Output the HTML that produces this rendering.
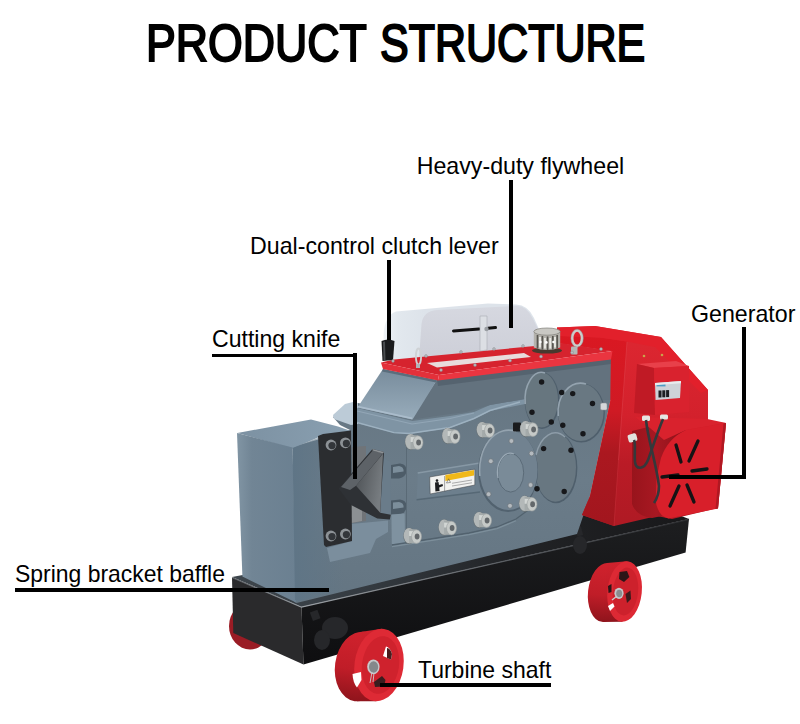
<!DOCTYPE html>
<html><head><meta charset="utf-8">
<style>
html,body{margin:0;padding:0;background:#fff;}
body{width:800px;height:724px;position:relative;overflow:hidden;font-family:"Liberation Sans",sans-serif;color:#000;}
.t{position:absolute;white-space:nowrap;line-height:1;transform-origin:0 0;}
.ln{position:absolute;background:#000;}
svg{position:absolute;left:0;top:0;}
</style></head><body>
<svg id="machine" width="800" height="724" viewBox="0 0 800 724">
<!--MACHINE-->
<defs>
<linearGradient id="gBlockL" x1="0" y1="0" x2="1" y2="0"><stop offset="0" stop-color="#8195a4"/><stop offset="0.25" stop-color="#718595"/><stop offset="1" stop-color="#6b8091"/></linearGradient>
<linearGradient id="gFront" x1="0" y1="0" x2="0" y2="1"><stop offset="0" stop-color="#657581"/><stop offset="0.5" stop-color="#6b7c89"/><stop offset="1" stop-color="#647582"/></linearGradient>
<linearGradient id="gRed" x1="0" y1="0" x2="1" y2="0"><stop offset="0" stop-color="#c91b27"/><stop offset="0.5" stop-color="#d9202c"/><stop offset="1" stop-color="#cf1e2a"/></linearGradient>
<linearGradient id="gCyl" x1="0" y1="0" x2="1" y2="0"><stop offset="0" stop-color="#98141c"/><stop offset="0.45" stop-color="#a81822"/><stop offset="1" stop-color="#8a1219"/></linearGradient>
<linearGradient id="gBase" x1="0" y1="0" x2="0" y2="1"><stop offset="0" stop-color="#1d1e20"/><stop offset="1" stop-color="#0e0e10"/></linearGradient>
<linearGradient id="gCover" x1="0" y1="0" x2="0" y2="1"><stop offset="0" stop-color="#d6d8e0"/><stop offset="1" stop-color="#cdcfd8"/></linearGradient>
<linearGradient id="gKnife" x1="0" y1="0" x2="1" y2="0.4"><stop offset="0" stop-color="#4a4e52"/><stop offset="1" stop-color="#777c80"/></linearGradient>
<radialGradient id="gBolt" cx="0.4" cy="0.4" r="0.7"><stop offset="0" stop-color="#e4e6e8"/><stop offset="0.6" stop-color="#b9bdc0"/><stop offset="1" stop-color="#8a8f93"/></radialGradient>
<linearGradient id="gWheel" x1="0" y1="0" x2="1" y2="1"><stop offset="0" stop-color="#e2303a"/><stop offset="1" stop-color="#b81822"/></linearGradient>
<linearGradient id="gFaceL" x1="293" y1="0" x2="345" y2="0" gradientUnits="userSpaceOnUse"><stop offset="0" stop-color="#5f7586"/><stop offset="1" stop-color="#5f7586" stop-opacity="0"/></linearGradient>
<linearGradient id="gSlopeL" x1="0" y1="0" x2="0" y2="1"><stop offset="0" stop-color="#788c9c"/><stop offset="1" stop-color="#98acbb"/></linearGradient>
<linearGradient id="gRedV" x1="0" y1="330" x2="0" y2="520" gradientUnits="userSpaceOnUse"><stop offset="0" stop-color="#dd2731"/><stop offset="0.45" stop-color="#d3212c"/><stop offset="0.7" stop-color="#ba1b26"/><stop offset="1" stop-color="#b01a24"/></linearGradient>
<linearGradient id="gRedF" x1="0" y1="335" x2="0" y2="525" gradientUnits="userSpaceOnUse"><stop offset="0" stop-color="#da1822"/><stop offset="0.4" stop-color="#cf1a24"/><stop offset="0.62" stop-color="#ab1820"/><stop offset="1" stop-color="#a2161e"/></linearGradient>
<linearGradient id="gTop" x1="0" y1="0" x2="1" y2="0"><stop offset="0" stop-color="#7c91a2"/><stop offset="1" stop-color="#8aa0b1"/></linearGradient>
<linearGradient id="gTread" x1="0" y1="0" x2="0" y2="1"><stop offset="0" stop-color="#d0222d"/><stop offset="0.55" stop-color="#c01d28"/><stop offset="1" stop-color="#8f141c"/></linearGradient>
<linearGradient id="gEdge" x1="230" y1="0" x2="690" y2="0" gradientUnits="userSpaceOnUse"><stop offset="0" stop-color="#55595e"/><stop offset="0.16" stop-color="#9a9fa4"/><stop offset="0.6" stop-color="#5a5e63"/><stop offset="1" stop-color="#2c2d30"/></linearGradient>
<linearGradient id="gSide" x1="383" y1="0" x2="425" y2="0" gradientUnits="userSpaceOnUse"><stop offset="0" stop-color="#eff3f7"/><stop offset="0.35" stop-color="#e2e8ee"/><stop offset="1" stop-color="#dde3ea"/></linearGradient>
<linearGradient id="gBaseTop" x1="232" y1="0" x2="689" y2="0" gradientUnits="userSpaceOnUse"><stop offset="0" stop-color="#3e464d"/><stop offset="0.3" stop-color="#343a40"/><stop offset="0.6" stop-color="#222427"/><stop offset="1" stop-color="#18181a"/></linearGradient>
</defs>

<!-- back wheels -->
<ellipse cx="250" cy="626" rx="21" ry="23.5" fill="#9a1c25"/>

<!-- base -->
<polygon points="232,577 301.5,607 689,519 640,500" fill="url(#gBaseTop)"/>
<polygon points="232,577.4 301.5,607 303.5,664.5 233.3,633" fill="#2a2a2c"/>
<polygon points="301.5,607 689,519 685.6,552.5 303.5,664.5" fill="url(#gBase)"/>
<polyline points="232.5,577.8 301.5,607.2 689,519.3" fill="none" stroke="url(#gEdge)" stroke-width="1.2"/>

<g fill="#26272a"><rect x="311" y="611" width="8" height="9" transform="rotate(-20 315 615)"/><ellipse cx="335" cy="628" rx="13" ry="11"/><ellipse cx="322" cy="640" rx="8" ry="10"/><rect x="576" y="527" width="6" height="9" transform="rotate(-15 579 531)"/><ellipse cx="580" cy="545" rx="7" ry="9"/></g>
<!-- left cutting block + gearbox casting -->
<g id="block">
<!-- big front face -->
<polygon points="293,447 350,430 340,425 333,417 351,405 358,403 412,416 437,380 611,359 610.5,400 602,440 590,496 577,534 296.5,603 294,601.5" fill="url(#gFront)"/>
<polygon points="237.4,433 311,419.4 338,426.5 351,431 323,436 318,437.5 292.5,448.5" fill="url(#gTop)"/>
<polygon points="237,433 292.6,447.5 296,602.6 242.4,576.6" fill="url(#gBlockL)"/>
<polygon points="292.5,448 320,437 340,445 345,590 298,601 295,600" fill="url(#gFaceL)"/>
</g>
<!-- recess under knife -->
<polygon points="351,524 388,520.5 388,532 376,539 370,553 330,562 327,548 352,541" fill="#7b8e9d"/>
<!-- jaw slab, notches, post -->
<polygon points="380.6,456 390.6,462 390,520 381.5,513" fill="#6a7c8a"/>
<path d="M391,465 L400,463.6 Q407,464.5 406.5,471 Q406,477 399,478.4 L391,478.6 Z" fill="#4d5c68"/>
<path d="M391,500.5 L400,499.6 Q407,500.5 406.5,507 Q406,513 399,514.4 L391,514.8 Z" fill="#4d5c68"/>
<path d="M393,467 L399,466 Q404,467 403.6,471.4 L393,473 Z" fill="#7c8e9b"/>
<path d="M393,502.5 L399,502 Q404,503 403.6,507.4 L393,509 Z" fill="#7c8e9b"/>
<polygon points="391.4,514.6 404.7,513.6 405,544.5 391.8,544" fill="#7f92a0"/>
<!-- steel block behind knife -->
<polygon points="352,447 366,446 366,521 352,523" fill="#707478"/><polygon points="351,493 362,493 362,521 351,523" fill="#8c9093"/>
<!-- black plate -->
<polygon points="318,436 323,434 351,430.6 352,541 326,547 324,545" fill="#2b2d30"/>
<g fill="#8d9296"><circle cx="331" cy="445" r="5.4"/><circle cx="345.4" cy="442.8" r="5.4"/><circle cx="331" cy="536" r="5.4"/><circle cx="345.4" cy="534" r="5.4"/></g>
<g fill="#33363a"><circle cx="332" cy="445.6" r="3.6"/><circle cx="346.4" cy="443.4" r="3.6"/><circle cx="332" cy="536.6" r="3.6"/><circle cx="346.4" cy="534.6" r="3.6"/></g>
<!-- knife -->
<polygon points="338.6,488.6 372.5,449 384,452 381.5,490 380.2,512.7 390.8,514.7 389.8,519.5 377.3,518.5 351,505" fill="#2e3135"/>
<polygon points="356,485.7 379,458.6 383,453.5 380.2,512.7" fill="url(#gKnife)"/>
<polygon points="341,487 372.8,450.5 383,453 378.6,458.8 356,485.7 350,490" fill="#5d6267"/>
<polygon points="372.5,449 384,452 383,453.5 372.5,450.6" fill="#8d9296"/>

<!-- gearbox upper -->
<g id="gear">
<polygon points="333,415 345,404 353,402 358,403 358,424 351,425 334,419" fill="#bccbd7"/>
<!-- ledge band -->
<polygon points="357,408 412.5,421 450,416 474,412 490,405 525,399 525,404 490,411 474,419 450,428 409,434 394,433 357,423" fill="#7f94a4"/>
<polyline points="357,422.5 394,432.6 409,433.5 450,427.5 474,418.5 490,410.5 520,402" fill="none" stroke="#9db1c0" stroke-width="1.4"/>
<polyline points="357,411 412,424 450,418.5 474,413" fill="none" stroke="#92a6b6" stroke-width="1.2"/>
<!-- upper body front sloped face -->
<polygon points="437,380 611,359 611,400 525,399 490,405 466,412 450,414 412.5,419.4" fill="#63727e"/>
<polygon points="437,380 611,359 611,364 438,386" fill="#55636f"/>
<!-- upper body sloped left face -->
<polygon points="383,369 437,380 412.5,419.4 357.5,407.5" fill="url(#gSlopeL)"/>
<polyline points="358,406.6 412,418.4" fill="none" stroke="#aabccb" stroke-width="1.6"/>
<polygon points="383,369 437,380 436,382.5 382,371.5" fill="#5b6e7d"/>
</g>

<!-- foot step line -->
<polyline points="392,545 469,533 497,527 516,519 531,508" fill="none" stroke="#52626e" stroke-width="1.3"/>
<polyline points="392,546.6 469,534.6 497,528.6 516,520.8" fill="none" stroke="#7d8f9b" stroke-width="1.2"/>
<line x1="406.5" y1="436" x2="406.5" y2="544" stroke="#5a6a76" stroke-width="1"/>
<!-- bearing covers -->
<g id="covers">
<!-- rib band -->
<polygon points="417.7,473 480,463 480,492 416.6,499.7" fill="#6d7f8d"/>
<polyline points="417.7,473 480,463" stroke="#8798a5" stroke-width="1.6" fill="none"/>
<polyline points="416.6,499.7 480,492" stroke="#566875" stroke-width="1.4" fill="none"/>
<ellipse cx="542" cy="400.6" rx="17.4" ry="28.4" fill="#4f5f6c"/>
<ellipse cx="541.5" cy="400" rx="16.5" ry="27.5" fill="#67767f"/>
<path d="M525.2,404 A16.5,27.5 0 0 1 545,373" fill="none" stroke="#94a3af" stroke-width="1.6"/>
<ellipse cx="581.4" cy="412.8" rx="23.5" ry="29.6" fill="#4f5f6c"/>
<ellipse cx="580.8" cy="412.2" rx="22.7" ry="28.8" fill="#697882"/>
<path d="M558.3,416 A22.7,28.8 0 0 1 586,384" fill="none" stroke="#94a3af" stroke-width="1.6"/>
<ellipse cx="556" cy="468" rx="21.4" ry="35.2" fill="#4f5f6c"/>
<ellipse cx="555.4" cy="467.3" rx="20.6" ry="34.4" fill="#687781"/>
<path d="M536,455 A20.6,34.4 0 0 1 565,437" fill="none" stroke="#8e9da9" stroke-width="1.5"/>
<ellipse cx="508" cy="471" rx="30" ry="41" fill="#52626f"/>
<ellipse cx="508.6" cy="470" rx="28.9" ry="40" fill="#718290"/>
<path d="M479.9,476 A28.9,40 0 0 1 516,431.5" fill="none" stroke="#94a3af" stroke-width="1.6"/>
<ellipse cx="510.7" cy="472.8" rx="13" ry="19.3" fill="#7a8b98" stroke="#5b6b78" stroke-width="1"/>
<path d="M498,478 A13,19.3 0 0 1 514,454" fill="none" stroke="#9aa9b5" stroke-width="1.2"/>
<g fill="#17181b">
<circle cx="541.6" cy="382" r="2.7"/><circle cx="532" cy="412.2" r="2.7"/><circle cx="551.3" cy="422" r="2.7"/>
<circle cx="561.7" cy="392.5" r="2.7"/><circle cx="572.7" cy="393.6" r="2.7"/><circle cx="592.5" cy="403.5" r="2.7"/><circle cx="562.8" cy="425.2" r="2.7"/><circle cx="583" cy="433.7" r="2.7"/>
<circle cx="543.6" cy="448.6" r="2.7"/><circle cx="571" cy="450.2" r="2.7"/><circle cx="537" cy="488.7" r="2.7"/><circle cx="564.2" cy="491.5" r="2.7"/>
</g>
<g fill="#b4babf" stroke="#6a7076" stroke-width="0.6">
<circle cx="511.4" cy="441" r="2.4"/><circle cx="531.5" cy="453.5" r="2.4"/><circle cx="490.8" cy="461.2" r="2.4"/><circle cx="530.6" cy="485" r="2.4"/><circle cx="488.6" cy="494.2" r="2.4"/><circle cx="510" cy="505.8" r="2.4"/>
</g>
<rect x="513" y="422.5" width="8" height="9" rx="1" fill="#1a1b1d"/>
<rect x="600.5" y="403" width="6.5" height="7" rx="1.5" fill="#d5d8da" stroke="#8d9296" stroke-width="0.5"/>
</g>
<!-- big silver bolts -->

<g transform="translate(414,442)"><ellipse cx="-3.2" cy="0" rx="6" ry="8.2" fill="#6b7478"/><ellipse cx="-3.4" cy="-0.4" rx="5.4" ry="7.6" fill="#b3b8b8"/><polygon points="-3.4,-7 4,-6.4 4,7.2 -3.4,7.2" fill="#a4aaaa"/><polygon points="-3.4,-5 4,-4.6 4,0 -3.4,0" fill="#d2d6d4"/><ellipse cx="4" cy="0.6" rx="5" ry="6.8" fill="#c6cac8" stroke="#9aa09f" stroke-width="0.6"/><ellipse cx="4.6" cy="0.6" rx="2.4" ry="3" fill="#62676a"/></g><g transform="translate(451,436)"><ellipse cx="-3.2" cy="0" rx="6" ry="8.2" fill="#6b7478"/><ellipse cx="-3.4" cy="-0.4" rx="5.4" ry="7.6" fill="#b3b8b8"/><polygon points="-3.4,-7 4,-6.4 4,7.2 -3.4,7.2" fill="#a4aaaa"/><polygon points="-3.4,-5 4,-4.6 4,0 -3.4,0" fill="#d2d6d4"/><ellipse cx="4" cy="0.6" rx="5" ry="6.8" fill="#c6cac8" stroke="#9aa09f" stroke-width="0.6"/><ellipse cx="4.6" cy="0.6" rx="2.4" ry="3" fill="#62676a"/></g><g transform="translate(485.5,430)"><ellipse cx="-3.2" cy="0" rx="6" ry="8.2" fill="#6b7478"/><ellipse cx="-3.4" cy="-0.4" rx="5.4" ry="7.6" fill="#b3b8b8"/><polygon points="-3.4,-7 4,-6.4 4,7.2 -3.4,7.2" fill="#a4aaaa"/><polygon points="-3.4,-5 4,-4.6 4,0 -3.4,0" fill="#d2d6d4"/><ellipse cx="4" cy="0.6" rx="5" ry="6.8" fill="#c6cac8" stroke="#9aa09f" stroke-width="0.6"/><ellipse cx="4.6" cy="0.6" rx="2.4" ry="3" fill="#62676a"/></g><g transform="translate(529,429)"><ellipse cx="-3.2" cy="0" rx="6" ry="8.2" fill="#6b7478"/><ellipse cx="-3.4" cy="-0.4" rx="5.4" ry="7.6" fill="#b3b8b8"/><polygon points="-3.4,-7 4,-6.4 4,7.2 -3.4,7.2" fill="#a4aaaa"/><polygon points="-3.4,-5 4,-4.6 4,0 -3.4,0" fill="#d2d6d4"/><ellipse cx="4" cy="0.6" rx="5" ry="6.8" fill="#c6cac8" stroke="#9aa09f" stroke-width="0.6"/><ellipse cx="4.6" cy="0.6" rx="2.4" ry="3" fill="#62676a"/></g>
<g transform="translate(412.5,536)"><ellipse cx="-3.2" cy="0" rx="6" ry="8.2" fill="#6b7478"/><ellipse cx="-3.4" cy="-0.4" rx="5.4" ry="7.6" fill="#b3b8b8"/><polygon points="-3.4,-7 4,-6.4 4,7.2 -3.4,7.2" fill="#a4aaaa"/><polygon points="-3.4,-5 4,-4.6 4,0 -3.4,0" fill="#d2d6d4"/><ellipse cx="4" cy="0.6" rx="5" ry="6.8" fill="#c6cac8" stroke="#9aa09f" stroke-width="0.6"/><ellipse cx="4.6" cy="0.6" rx="2.4" ry="3" fill="#62676a"/></g><g transform="translate(447.5,527.5)"><ellipse cx="-3.2" cy="0" rx="6" ry="8.2" fill="#6b7478"/><ellipse cx="-3.4" cy="-0.4" rx="5.4" ry="7.6" fill="#b3b8b8"/><polygon points="-3.4,-7 4,-6.4 4,7.2 -3.4,7.2" fill="#a4aaaa"/><polygon points="-3.4,-5 4,-4.6 4,0 -3.4,0" fill="#d2d6d4"/><ellipse cx="4" cy="0.6" rx="5" ry="6.8" fill="#c6cac8" stroke="#9aa09f" stroke-width="0.6"/><ellipse cx="4.6" cy="0.6" rx="2.4" ry="3" fill="#62676a"/></g><g transform="translate(482.5,520)"><ellipse cx="-3.2" cy="0" rx="6" ry="8.2" fill="#6b7478"/><ellipse cx="-3.4" cy="-0.4" rx="5.4" ry="7.6" fill="#b3b8b8"/><polygon points="-3.4,-7 4,-6.4 4,7.2 -3.4,7.2" fill="#a4aaaa"/><polygon points="-3.4,-5 4,-4.6 4,0 -3.4,0" fill="#d2d6d4"/><ellipse cx="4" cy="0.6" rx="5" ry="6.8" fill="#c6cac8" stroke="#9aa09f" stroke-width="0.6"/><ellipse cx="4.6" cy="0.6" rx="2.4" ry="3" fill="#62676a"/></g><g transform="translate(528,503.7)"><ellipse cx="-3.2" cy="0" rx="6" ry="8.2" fill="#6b7478"/><ellipse cx="-3.4" cy="-0.4" rx="5.4" ry="7.6" fill="#b3b8b8"/><polygon points="-3.4,-7 4,-6.4 4,7.2 -3.4,7.2" fill="#a4aaaa"/><polygon points="-3.4,-5 4,-4.6 4,0 -3.4,0" fill="#d2d6d4"/><ellipse cx="4" cy="0.6" rx="5" ry="6.8" fill="#c6cac8" stroke="#9aa09f" stroke-width="0.6"/><ellipse cx="4.6" cy="0.6" rx="2.4" ry="3" fill="#62676a"/></g>
<!-- warning label -->
<polygon points="429.7,477 474.8,469.2 474.8,485 430.2,494" fill="#f2f2f0" stroke="#3a3d40" stroke-width="0.5"/>
<polygon points="445.4,475 474,470 474,475.5 445.4,481" fill="#f0b818"/>
<path d="M435,482.5 L438.5,482 L439,485 L442.5,484 L443,486 L439.2,487.4 L439.6,491 L435.4,491.6 Z" fill="#1c1d1f"/><circle cx="437" cy="480.6" r="1.3" fill="#1c1d1f"/><line x1="444.6" y1="476" x2="444.6" y2="491.5" stroke="#55595c" stroke-width="0.5"/>
<polygon points="446.5,483 450.5,482.4 448.6,478.8" fill="none" stroke="#444" stroke-width="0.5"/><polygon points="452,482.8 472,479.4 472,480.4 452,483.8" fill="#aaa"/><polygon points="452,485.6 472,482.2 472,483.2 452,486.6" fill="#aaa"/>

<!-- red housing -->
<g id="housing">
<polygon points="557,327.5 595,326 661,337 708,390 708,422 726,423 718,508 672,519 657,516 614,526 582,515 590,496 602,440 610.5,400 611,351 557,343" fill="url(#gRedV)"/>
<!-- front face (darker, left of edge) -->
<polygon points="600,337.5 627,341.5 618.5,460 614,526 582,515 590,496 602,440 610.5,400 611,351 557,343 560,336" fill="url(#gRedF)"/>
<line x1="627" y1="342" x2="618.5" y2="460" stroke="#e04650" stroke-width="0.8" opacity="0.6"/>
<line x1="618.5" y1="460" x2="614" y2="526" stroke="#c8303a" stroke-width="0.8" opacity="0.7"/>
<!-- top band lighter -->
<polygon points="557,327.5 595,326 661,337 708,390 701,393 655,347 627,341.5 600,337.5 560,336" fill="#e2202b"/>
<!-- motor cylinder -->
<path d="M632,431 L660,424 L686,430 L664,452 L656,480 L656,505 L662,516 L652,518 Q636,516 632,504 Z" fill="url(#gCyl)"/>
<!-- fan cover top -->
<polygon points="635,417 706,418.7 726,423 686,430 664,440 650,428" fill="#d9222d"/>
<!-- fan cover face -->
<path d="M726,423 L686,430 Q668,438 661,458 Q655,480 656,502 Q658,516 668.4,518.5 L718,508.5 Z" fill="#d81f2a"/>
<path d="M726,423 L718,508.5 L715.5,509 L723.5,423.5 Z" fill="#b01822"/>
<!-- slots -->
<g stroke="#151315" stroke-width="3.3" stroke-linecap="round">
<line x1="676" y1="445" x2="681" y2="462"/><line x1="698" y1="441" x2="689" y2="461"/>
<line x1="692" y1="471" x2="707" y2="469"/><line x1="662" y1="477" x2="678" y2="475"/>
<line x1="679" y1="486" x2="670" y2="506"/><line x1="687" y1="485" x2="694" y2="502"/>
</g>
<!-- electric box -->
<polygon points="637,364 676,361 689,366 654,368" fill="#e8404a"/>
<polygon points="637,364 654,368 655,415 634,413" fill="#c01a25"/>
<polygon points="654,368 689,366 689,412 655,415" fill="#d9222e"/>
<polygon points="655,383 681,381 680,398 655.6,400" fill="#ced3d8"/>
<rect x="658.5" y="390.5" width="3" height="7" fill="#1d1f22"/><rect x="662.3" y="390.3" width="3" height="7" fill="#1d1f22"/><rect x="666.1" y="390.1" width="3" height="7" fill="#1d1f22"/>
<rect x="656.5" y="384" width="9" height="2.4" fill="#4f9cc4"/><polygon points="655,383 681,381 681,383.2 655,385.2" fill="#e9ecee"/>
<!-- glands -->
<rect x="642" y="415.5" width="8" height="5.5" rx="1.5" fill="#e6e6e2"/>
<rect x="660" y="414.5" width="8" height="5" rx="1.5" fill="#e6e6e2"/>
<rect x="628" y="434" width="9" height="8" rx="2" fill="#e2e2de" transform="rotate(-15 632 438)"/>
<!-- cables -->
<path d="M646,420 C648,440 656,462 659,486 C659,495 656,500 654,503" fill="none" stroke="#34383b" stroke-width="2.6"/>
<path d="M663,419 C656,436 650,455 648,460 C644,470 636,470 635,462 C634,452 636,445 634,440" fill="none" stroke="#34383b" stroke-width="2.6"/>
<circle cx="644" cy="356" r="1.3" fill="#c9a24a"/><circle cx="662" cy="355" r="1.3" fill="#c9a24a"/>
</g>

<!-- flywheel cover -->
<g id="cover">
<path d="M383.4,360 L383.6,334 Q384.5,316 396,311.5 L488,303.5 L516,304.5 Q528,305 534,318 L546,345 L422,359 Z" fill="url(#gSide)"/>
<path d="M419,359 L421.5,324 Q423,311 437,310 L517,306 Q527,306 533,319 L546,345 Z" fill="url(#gCover)"/>
<line x1="453.5" y1="331" x2="479" y2="329" stroke="#111" stroke-width="3" stroke-linecap="round"/>
<line x1="488" y1="328.3" x2="495.5" y2="327.6" stroke="#111" stroke-width="3" stroke-linecap="round"/>
<polygon points="480,316 487,316 487,350 480,351" fill="#dcdfe4" stroke="#a9adb3" stroke-width="0.6"/>
<circle cx="486.5" cy="329" r="2.2" fill="#9a9ea3"/>
</g>

<!-- red top plate -->
<g id="plate">
<polygon points="381,362.5 394,359.5 540,345.5 560,343 612.5,351 439,375" fill="#d6232e"/>
<polygon points="381,362.5 439,375 438,380.5 383,369" fill="#e3303a"/>
<polygon points="439,375 612.5,351 611,359.5 438,380.5" fill="#ea3540"/>
<polygon points="427,363 524,353 531,357 437,367.5" fill="#e8dcdc"/>
</g>

<!-- clutch handle -->
<path d="M381.5,341 Q388,338 394.5,341 L393,360 L382.5,361 Z" fill="#1a1b1d"/><path d="M383,342 L385,341.4 L385.5,360.4 L383.6,360.6 Z" fill="#4a4d50"/>

<!-- silver breather cap -->
<g id="cap">
<ellipse cx="547" cy="350.6" rx="15" ry="3" fill="#47392e"/>
<path d="M533.8,332 L533.8,347.5 Q547,352.5 560.2,347.5 L560.2,332 Z" fill="#b4b2ac"/>
<g stroke="#57554f" stroke-width="1.7"><line x1="537.5" y1="335" x2="537.5" y2="348.6"/><line x1="542.4" y1="336" x2="542.4" y2="349.6"/><line x1="547.6" y1="336.4" x2="547.6" y2="350"/><line x1="552.8" y1="336" x2="552.8" y2="349.6"/><line x1="557.2" y1="335" x2="557.2" y2="348.6"/></g>
<g stroke="#ecebe6" stroke-width="1.8"><line x1="540" y1="337" x2="540" y2="347.5"/><line x1="545" y1="338" x2="545" y2="348.5"/><line x1="550.2" y1="338" x2="550.2" y2="348.5"/><line x1="555" y1="337" x2="555" y2="347.5"/></g>
<g fill="#ffffff"><circle cx="540.4" cy="342" r="1.2"/><circle cx="546.4" cy="342.4" r="1.3"/><circle cx="553.4" cy="342" r="1.2"/></g>
<ellipse cx="547" cy="331.6" rx="13.2" ry="3.6" fill="#c9c8c3" stroke="#807e78" stroke-width="0.7"/>
</g>
<!-- eyebolts -->
<ellipse cx="577.1" cy="338.2" rx="4.9" ry="7.7" fill="none" stroke="#cbcdca" stroke-width="2.6"/>
<ellipse cx="577.1" cy="338.2" rx="6.2" ry="9" fill="none" stroke="#8e9397" stroke-width="0.5"/>
<rect x="571" y="346.4" width="6.5" height="8" rx="1" fill="#b4b7b6"/>
<ellipse cx="418.5" cy="356.5" rx="2.6" ry="8" fill="none" stroke="#cfd2d5" stroke-width="1.8"/>
<rect x="416" y="364" width="4" height="4" fill="#b0b4b8"/>
<!-- small plate bolts -->
<g fill="#b8bcc0" stroke="#7b7f84" stroke-width="0.4">
<circle cx="393" cy="361" r="1.4"/><circle cx="426" cy="356" r="1.4"/><circle cx="461" cy="352" r="1.4"/><circle cx="494" cy="349" r="1.4"/><circle cx="523" cy="346" r="1.4"/>
<circle cx="441" cy="370" r="1.5"/><circle cx="475" cy="365" r="1.5"/><circle cx="510" cy="360.5" r="1.5"/><circle cx="541" cy="356.5" r="1.5"/><circle cx="572" cy="352.5" r="1.5"/><circle cx="601" cy="349" r="1.5"/>
</g>

<!-- front-left wheel -->
<g id="wheelL">
<ellipse cx="359.5" cy="666.5" rx="24.5" ry="35" fill="url(#gTread)" transform="rotate(8 359.5 666.5)"/>
<polygon points="362,631.7 381.8,628.8 376.2,701.2 357,701.3" fill="url(#gTread)"/>
<ellipse cx="379" cy="665" rx="24.5" ry="36.4" fill="#de2a35" transform="rotate(8 379 665)"/>
<ellipse cx="380.5" cy="665" rx="18.5" ry="29" fill="#cf222d" transform="rotate(8 380.5 665)"/>
<path d="M383,656 L386,646.5 Q390,647 392,654 L391,659.5 Z" fill="#ffffff"/>
<path d="M387,648 Q390.5,648.5 392,654 L391,659.5 L387,658 Z" fill="#4a1c1e"/>
<path d="M352.5,674 L361,672 L361.5,680 L357,687.5 Q353,683 352.5,674 Z" fill="#ffffff"/>
<path d="M374,682 L382,676 L385.5,680 L384,686.5 L375,687 Z" fill="#3a1d1f"/>
<ellipse cx="373.4" cy="666.8" rx="6.2" ry="7.4" fill="#c7c9cb"/>
<ellipse cx="373.6" cy="667" rx="4.6" ry="5.8" fill="#85888b"/>
<path d="M372,672 L370,683 M374,673 L373,682" stroke="#c9cbcd" stroke-width="0.9" fill="none"/>
</g>
<!-- right wheel -->
<g id="wheelR">
<ellipse cx="605" cy="592.5" rx="17" ry="29.5" fill="url(#gTread)" transform="rotate(6 605 592.5)"/>
<polygon points="607,563.1 626.8,561.2 622.4,621.8 603,621.9" fill="url(#gTread)"/>
<ellipse cx="624.6" cy="591.5" rx="17.2" ry="30.4" fill="#dd2934" transform="rotate(6 624.6 591.5)"/>
<ellipse cx="625.5" cy="591.5" rx="12.6" ry="24" fill="#cd212c" transform="rotate(6 625.5 591.5)"/>
<path d="M619.5,572 L627,571 L629.4,577 L624,582 L619,579 Z" fill="#2c1517"/>
<path d="M608,586 L611.5,584 L611.5,592 L608.5,593 Z" fill="#2c1517"/>
<path d="M608,606 L613,603 L614.5,606.5 L610,611 Z" fill="#ffffff"/>
<path d="M625.5,594 L630.5,590.5 L631,599 L627,603 Z" fill="#3a1a1c"/>
<ellipse cx="619" cy="593.3" rx="4.6" ry="5.6" fill="#c5c7c9"/>
<ellipse cx="619.2" cy="593.5" rx="3" ry="3.8" fill="#8a8d90"/>
<path d="M617,596 L612,600" stroke="#c9cbcd" stroke-width="1.4" fill="none"/>
</g>

</svg>
<div class="t" id="title" style="left:145.9px;top:17.8px;font-size:51.8px;-webkit-text-stroke:2px #000;transform:scaleX(0.862);">PRODUCT</div>
<div class="t" id="title2" style="left:380px;top:17.8px;font-size:51.8px;-webkit-text-stroke:2px #000;transform:scaleX(0.8305);">STRUCTURE</div>
<div class="t" id="l1" style="left:416.7px;top:154.6px;font-size:23.2px;">Heavy-duty flywheel</div>
<div class="t" id="l2" style="left:250px;top:234.6px;font-size:23.2px;">Dual-control clutch lever</div>
<div class="t" id="l3" style="left:212px;top:328.4px;font-size:23.2px;transform:scaleX(0.995);">Cutting knife</div>
<div class="t" id="l4" style="left:691px;top:303.4px;font-size:23.2px;">Generator</div>
<div class="t" id="l5" style="left:15px;top:563px;font-size:23.2px;transform:scaleX(0.989);">Spring bracket baffle</div>
<div class="t" id="l6" style="left:417.6px;top:658.8px;font-size:23.2px;transform:scaleX(0.991);">Turbine shaft</div>
<div class="ln" style="left:509.3px;top:180px;width:4.2px;height:147.6px;"></div>
<div class="ln" style="left:387px;top:260px;width:4px;height:80px;"></div>
<div class="ln" style="left:212px;top:353.5px;width:145px;height:3.9px;"></div>
<div class="ln" style="left:353px;top:353px;width:4px;height:126px;"></div>
<div class="ln" style="left:742.2px;top:327.2px;width:3.9px;height:152px;"></div>
<div class="ln" style="left:669px;top:475px;width:77px;height:4px;"></div>
<div class="ln" style="left:15px;top:588px;width:314px;height:3.9px;"></div>
<div class="ln" style="left:380px;top:683px;width:171px;height:4px;"></div>
</body></html>
